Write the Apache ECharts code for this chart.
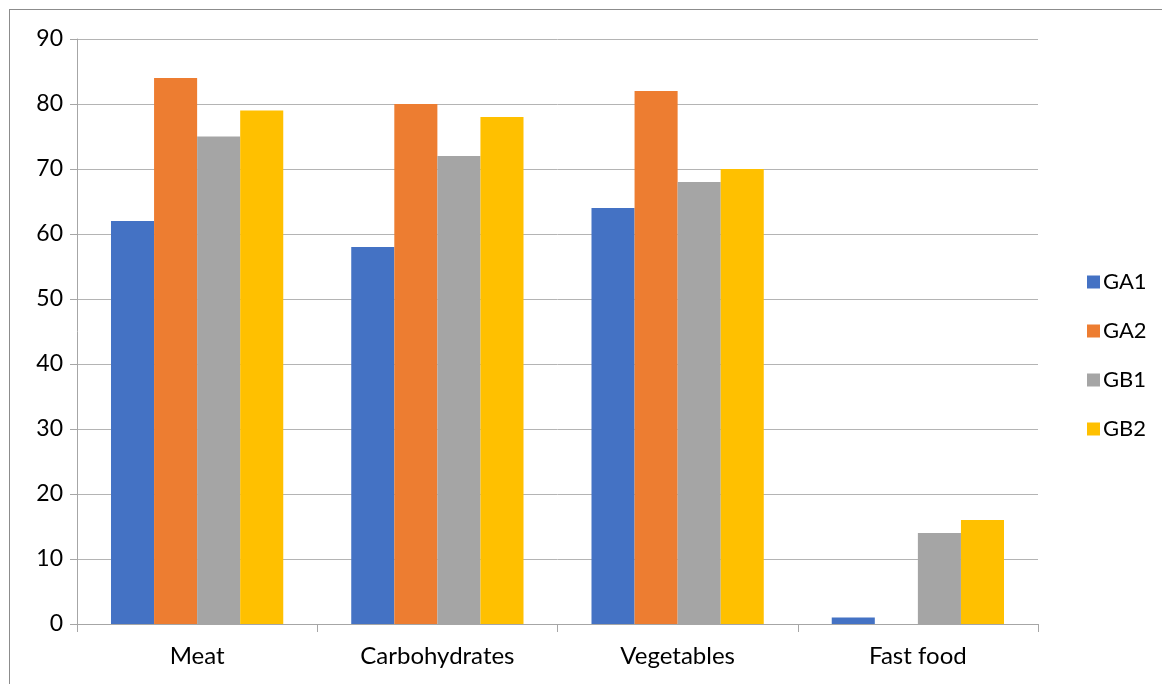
<!DOCTYPE html>
<html>
<head>
<meta charset="utf-8">
<script src="https://cdn.jsdelivr.net/npm/echarts@6/dist/echarts.min.js"></script>
<style>
html,body{margin:0;padding:0;background:#fff;}
#frame{position:absolute;left:9px;top:9px;width:1200px;height:700px;border-left:1.5px solid #8c8c8c;border-top:1.5px solid #8c8c8c;pointer-events:none;z-index:2;}
#main{position:absolute;left:0;top:0;width:1162px;height:684px;}
</style>
</head>
<body>
<div id="main"></div>
<div id="frame"></div>
<script>
const categories = ['Meat', 'Carbohydrates', 'Vegetables', 'Fast food'];
const seriesNames = ['GA1', 'GA2', 'GB1', 'GB2'];
const GA1 = [62, 58, 64, 1];
const GA2 = [84, 80, 82, 0];
const GB1 = [75, 72, 68, 14];
const GB2 = [79, 78, 70, 16];
const colors = ['#4472c4', '#ed7d31', '#a5a5a5', '#ffc000'];
const values = [GA1, GA2, GB1, GB2];

const chart = echarts.init(document.getElementById('main'));
const font = 'Lato, Carlito, "Open Sans", sans-serif';
chart.setOption({
  animation: false,
  color: colors,
  grid: {left: 77, right: 124, top: 39, bottom: 60, containLabel: false},
  legend: {
    orient: 'vertical', left: 1082, top: 266,
    itemWidth: 13, itemHeight: 13, itemGap: 27,
    icon: 'rect',
    textStyle: {fontFamily: font, fontSize: 22, color: '#000', lineHeight: 22, padding: [0,0,0,-2]},
    data: seriesNames
  },
  xAxis: {
    type: 'category', data: categories,
    axisLine: {lineStyle: {color: '#a6a6a6', width: 1}},
    axisTick: {show: true, length: 8, lineStyle: {color: '#a6a6a6'}},
    axisLabel: {fontFamily: font, fontSize: 24, color: '#000', margin: 20}
  },
  yAxis: {
    type: 'value', min: 0, max: 90, interval: 10,
    axisLine: {show: true, lineStyle: {color: '#a6a6a6', width: 1}},
    axisTick: {show: true, length: 7, lineStyle: {color: '#a6a6a6'}},
    splitLine: {lineStyle: {color: '#b4b4b4', width: 1}},
    axisLabel: {fontFamily: font, fontSize: 23, color: '#000', margin: 14}
  },
  series: seriesNames.map((n, i) => ({
    name: n, type: 'bar', data: values[i],
    barGap: '0%', barCategoryGap: '28.3%',
    itemStyle: {color: colors[i]}
  }))
});
</script>
</body>
</html>
